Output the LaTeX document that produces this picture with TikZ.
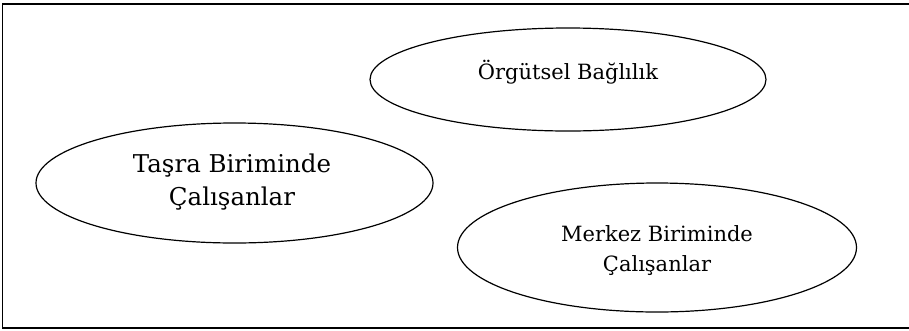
\documentclass[tikz,border=0pt]{standalone}
\usepackage{fontspec}
\setmainfont{DejaVu Serif}
\usetikzlibrary{shapes.geometric}
\begin{document}
\begin{tikzpicture}[x=1pt,y=-1pt,
  oval/.style={draw=black, line width=1.2pt, ellipse, inner sep=0pt},
  txt/.style={anchor=base, inner sep=0pt, text=black}]
\useasboundingbox (0,0) rectangle (909,330);
\draw[line width=1.8pt] (2.5,4) rectangle (910,328);
% ellipses
\node[oval, minimum width=396pt, minimum height=103pt] (org) at (568,79.5) {};
\node[oval, minimum width=397pt, minimum height=120pt] (tasra) at (234.5,183) {};
\node[oval, minimum width=399pt, minimum height=129pt] (merkez) at (657,247.5) {};
% texts
\node[txt, font=\fontsize{21}{26}\selectfont] (orgt) at (568,79) {Örgütsel Bağlılık};
\node[txt, font=\fontsize{24.5}{30}\selectfont] (tasra1) at (232,172) {Taşra Biriminde};
\node[txt, font=\fontsize{24.5}{30}\selectfont] (tasra2) at (232,205) {Çalışanlar};
\node[txt, font=\fontsize{21}{26}\selectfont] (merkez1) at (657,241) {Merkez Biriminde};
\node[txt, font=\fontsize{21}{26}\selectfont] (merkez2) at (657,271) {Çalışanlar};
\end{tikzpicture}
\end{document}
